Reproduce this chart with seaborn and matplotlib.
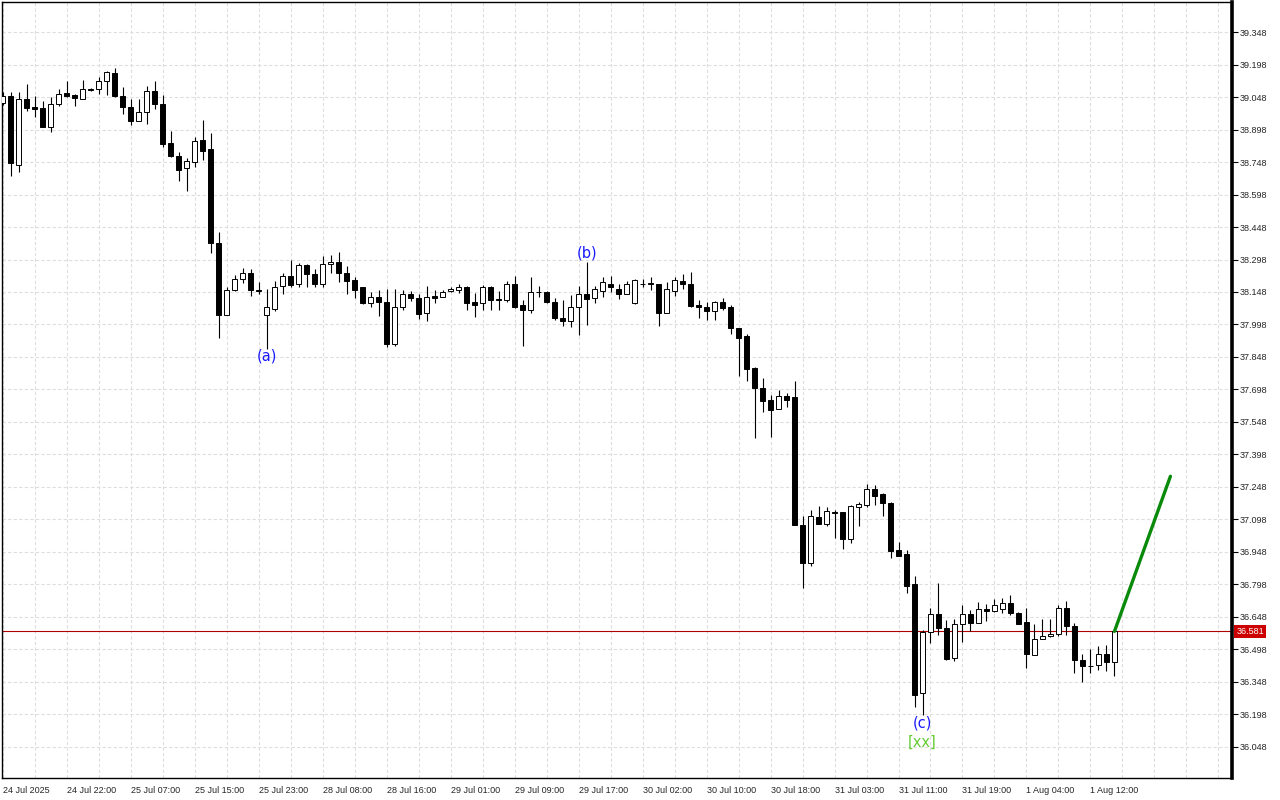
import matplotlib
matplotlib.use("Agg")
import numpy as np
import pandas as pd
import seaborn as sns
import matplotlib.pyplot as plt
from matplotlib.ticker import MultipleLocator, FixedLocator
from matplotlib.transforms import blended_transform_factory

# hourly OHLC
opens = [39.021, 39.055, 38.735, 39.037, 39.000, 38.997, 38.912, 39.014, 39.066, 39.057,
         39.041, 39.086, 39.087, 39.120, 39.161, 39.055, 39.004, 38.938, 38.981, 39.078,
         39.014, 38.834, 38.774, 38.722, 38.749, 38.848, 38.808, 38.374, 38.044, 38.155,
         38.206, 38.238, 38.155, 38.040, 38.069, 38.175, 38.220, 38.183, 38.272, 38.229,
         38.183, 38.275, 38.287, 38.236, 38.203, 38.169, 38.097, 38.123, 38.101, 37.910,
         38.077, 38.137, 38.118, 38.049, 38.129, 38.127, 38.153, 38.158, 38.173, 38.101,
         38.097, 38.169, 38.115, 38.113, 38.186, 38.086, 38.067, 38.150, 38.150, 38.101,
         38.030, 38.015, 38.077, 38.138, 38.118, 38.153, 38.187, 38.164, 38.141, 38.095,
         38.187, 38.190, 38.184, 38.049, 38.153, 38.200, 38.184, 38.087, 38.078, 38.060,
         38.100, 38.077, 37.980, 37.943, 37.798, 37.705, 37.650, 37.606, 37.668, 37.665,
         37.074, 36.898, 37.108, 37.079, 37.134, 37.131, 37.008, 37.157, 37.163, 37.240,
         37.213, 37.176, 36.956, 36.938, 36.798, 36.296, 36.580, 36.659, 36.597, 36.456,
         36.617, 36.659, 36.620, 36.685, 36.674, 36.685, 36.713, 36.668, 36.623, 36.472,
         36.546, 36.558, 36.569, 36.690, 36.605, 36.450, 36.422, 36.424, 36.476, 36.439]
highs = [39.070, 39.070, 39.070, 39.109, 39.052, 39.029, 39.047, 39.087, 39.121, 39.060,
         39.129, 39.090, 39.140, 39.170, 39.180, 39.093, 39.041, 39.037, 39.098, 39.121,
         39.057, 38.891, 38.794, 38.768, 38.863, 38.944, 38.883, 38.425, 38.169, 38.226,
         38.261, 38.256, 38.192, 38.160, 38.200, 38.235, 38.298, 38.283, 38.275, 38.256,
         38.313, 38.321, 38.332, 38.267, 38.218, 38.172, 38.147, 38.155, 38.164, 38.164,
         38.157, 38.152, 38.138, 38.175, 38.156, 38.156, 38.172, 38.186, 38.175, 38.144,
         38.180, 38.175, 38.152, 38.198, 38.224, 38.110, 38.218, 38.175, 38.153, 38.118,
         38.113, 38.133, 38.175, 38.287, 38.175, 38.215, 38.221, 38.183, 38.200, 38.210,
         38.206, 38.218, 38.186, 38.193, 38.215, 38.230, 38.240, 38.110, 38.103, 38.107,
         38.118, 38.087, 37.982, 37.955, 37.800, 37.751, 37.673, 37.697, 37.682, 37.739,
         37.113, 37.140, 37.159, 37.153, 37.140, 37.134, 37.165, 37.177, 37.263, 37.259,
         37.222, 37.178, 36.994, 36.956, 36.837, 36.589, 36.690, 36.803, 36.633, 36.636,
         36.705, 36.682, 36.718, 36.708, 36.732, 36.736, 36.747, 36.671, 36.690, 36.613,
         36.639, 36.636, 36.705, 36.721, 36.620, 36.476, 36.500, 36.515, 36.520, 36.581]
lows = [39.010, 38.683, 38.702, 38.983, 38.955, 38.911, 38.888, 39.007, 39.050, 39.007,
        39.041, 39.077, 39.060, 39.057, 39.047, 38.970, 38.920, 38.936, 38.924, 38.994,
        38.817, 38.771, 38.660, 38.614, 38.725, 38.757, 38.328, 37.935, 38.040, 38.152,
        38.190, 38.130, 38.141, 37.887, 38.060, 38.137, 38.172, 38.172, 38.169, 38.172,
        38.172, 38.236, 38.195, 38.137, 38.121, 38.092, 38.077, 38.037, 37.892, 37.898,
        38.064, 38.107, 38.024, 38.015, 38.095, 38.127, 38.149, 38.144, 38.064, 38.033,
        38.063, 38.063, 38.064, 38.101, 38.072, 37.898, 38.052, 38.126, 38.098, 38.021,
        37.992, 37.987, 37.949, 37.995, 38.095, 38.123, 38.149, 38.115, 38.141, 38.092,
        38.172, 38.156, 37.992, 38.049, 38.130, 38.163, 38.080, 38.029, 38.021, 38.018,
        38.064, 37.954, 37.762, 37.739, 37.472, 37.593, 37.477, 37.606, 37.616, 37.070,
        36.779, 36.884, 37.077, 37.068, 37.013, 36.962, 36.991, 37.068, 37.153, 37.163,
        37.114, 36.921, 36.930, 36.759, 36.231, 36.195, 36.527, 36.563, 36.450, 36.442,
        36.531, 36.582, 36.620, 36.628, 36.670, 36.667, 36.656, 36.613, 36.412, 36.472,
        36.546, 36.555, 36.558, 36.563, 36.391, 36.345, 36.391, 36.401, 36.396, 36.373]
closes = [39.055, 38.745, 39.041, 38.998, 38.994, 38.911, 39.014, 39.064, 39.054, 39.044,
          39.083, 39.080, 39.120, 39.166, 39.052, 39.003, 38.938, 38.981, 39.078, 39.014,
          38.832, 38.775, 38.712, 38.752, 38.843, 38.800, 38.376, 38.041, 38.155, 38.206,
          38.238, 38.155, 38.153, 38.077, 38.172, 38.220, 38.181, 38.272, 38.229, 38.183,
          38.278, 38.287, 38.236, 38.200, 38.157, 38.098, 38.123, 38.100, 37.910, 38.077,
          38.137, 38.118, 38.046, 38.123, 38.121, 38.150, 38.163, 38.173, 38.098, 38.090,
          38.169, 38.110, 38.109, 38.186, 38.080, 38.067, 38.150, 38.149, 38.100, 38.029,
          38.015, 38.077, 38.138, 38.117, 38.160, 38.192, 38.169, 38.141, 38.187, 38.203,
          38.186, 38.184, 38.049, 38.160, 38.203, 38.183, 38.084, 38.077, 38.060, 38.101,
          38.075, 37.980, 37.937, 37.792, 37.704, 37.647, 37.603, 37.668, 37.650, 37.074,
          36.898, 37.114, 37.077, 37.137, 37.128, 37.008, 37.159, 37.168, 37.240, 37.207,
          37.176, 36.953, 36.930, 36.791, 36.289, 36.580, 36.659, 36.595, 36.455, 36.617,
          36.659, 36.620, 36.685, 36.676, 36.705, 36.713, 36.667, 36.616, 36.476, 36.546,
          36.558, 36.569, 36.690, 36.605, 36.447, 36.419, 36.421, 36.476, 36.438, 36.581]

time_labels = ["24 Jul 2025", "24 Jul 22:00", "25 Jul 07:00", "25 Jul 15:00", "25 Jul 23:00",
               "28 Jul 08:00", "28 Jul 16:00", "29 Jul 01:00", "29 Jul 09:00", "29 Jul 17:00",
               "30 Jul 02:00", "30 Jul 10:00", "30 Jul 18:00", "31 Jul 03:00", "31 Jul 11:00",
               "31 Jul 19:00", "1 Aug 04:00", "1 Aug 12:00"]

last_price = 36.581
# projected move (bar index, price)
proj_bars = [139, 146]
proj_prices = [36.581, 37.297]

# wave marks: text, bar, price, colour
wave_text = ["(a)", "(b)", "(c)", "[xx]"]
wave_bar = [33, 73, 115, 115]
wave_price = [37.852, 38.328, 36.158, 36.070]
wave_color = ["#1a1aff", "#1a1aff", "#1a1aff", "#66cc33"]

df = pd.DataFrame({"open": opens, "high": highs, "low": lows, "close": closes})
df["bar"] = np.arange(len(df))
df["up"] = df["close"] >= df["open"]

sns.set_style("white")
plt.rcParams["font.family"] = ["Liberation Sans", "DejaVu Sans"]

fig = plt.figure(figsize=(12.8, 8), dpi=100)
ax = fig.add_axes([2 / 1280, 22 / 800, 1230 / 1280, 776 / 800])

# wicks then bodies
ax.vlines(df["bar"], df["low"], df["high"], color="black", lw=0.8, zorder=2)
body_bottom = df[["open", "close"]].min(axis=1)
body_h = (df["close"] - df["open"]).abs().clip(lower=0.001)
ax.bar(df["bar"], body_h, bottom=body_bottom, width=0.6,
       color=np.where(df["up"], "white", "black"), edgecolor="black", lw=0.7, zorder=3)

ax.axhline(last_price, color="#b00000", lw=0.8, zorder=1)

sns.lineplot(x=proj_bars, y=proj_prices, color="#0a8a0a", lw=2.4, ax=ax, zorder=4)

for t, b, p, c in zip(wave_text, wave_bar, wave_price, wave_color):
    ax.text(b, p, t, color=c, fontsize=10.5, ha="center", va="center",
            family=["DejaVu Sans"], zorder=5)

ax.set_xlim(-0.1, 153.7)
ax.set_ylim(35.904, 39.487)

# axes / ticks
ax.yaxis.tick_right()
ax.set_yticks(np.arange(36.048, 39.35, 0.15))
ax.set_yticklabels([f"{v:.3f}" for v in np.arange(36.048, 39.35, 0.15)])
ax.xaxis.set_major_locator(FixedLocator(np.arange(0, len(df), 8)))
ax.set_xticklabels(time_labels, ha="left")
ax.xaxis.set_minor_locator(MultipleLocator(4))
ax.tick_params(axis="both", which="major", labelsize=6.5, length=4, width=0.8,
               direction="out", color="black", pad=1.5)
ax.tick_params(axis="x", which="major", pad=2)
ax.tick_params(axis="x", which="minor", length=0)
ax.grid(True, which="both", axis="x", ls=(0, (3, 2)), color="#dedede", lw=0.8)
ax.grid(True, which="major", axis="y", ls=(0, (3, 2)), color="#dedede", lw=0.8)
ax.set_axisbelow(True)

for s in ["left", "top", "bottom"]:
    ax.spines[s].set_color("black")
    ax.spines[s].set_linewidth(1.0)
ax.spines["right"].set_color("black")
ax.spines["right"].set_linewidth(2.6)

# last price tag on the price axis
trans = blended_transform_factory(ax.transAxes, ax.transData)
ax.text(1.0035, last_price, f"{last_price:.3f}", transform=trans, color="white",
        fontsize=6.5, va="center", ha="left", clip_on=False, zorder=6,
        bbox=dict(boxstyle="square,pad=0.2", fc="#cc0000", ec="none"))

ax.set_xlabel("")
ax.set_ylabel("")
fig.savefig("out.png", dpi=100)
